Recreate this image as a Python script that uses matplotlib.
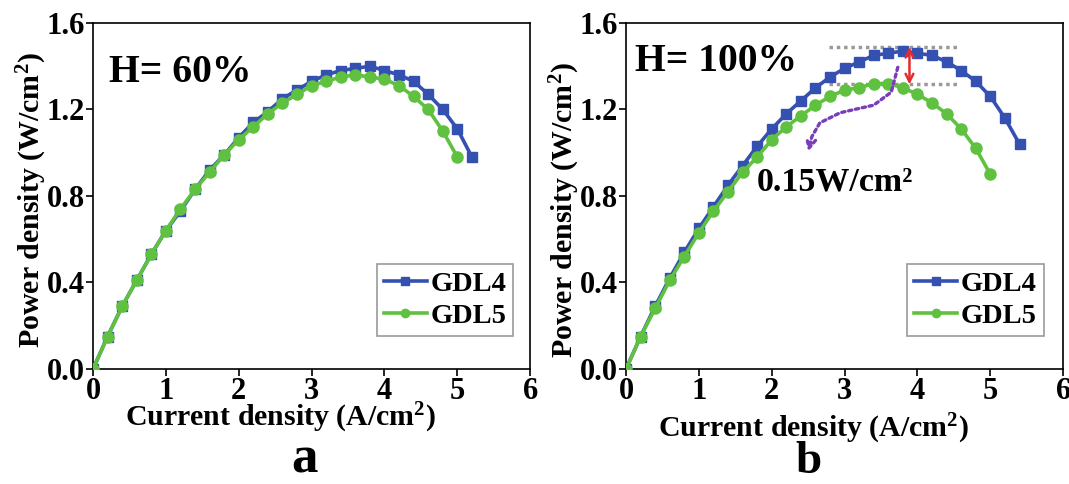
import matplotlib
matplotlib.use("Agg")
import matplotlib.pyplot as plt
from matplotlib.path import Path
from matplotlib.patches import FancyArrowPatch

plt.rcParams["font.family"] = ["Liberation Serif", "DejaVu Serif"]
plt.rcParams["font.weight"] = "bold"
plt.rcParams["mathtext.fontset"] = "custom"
plt.rcParams["mathtext.rm"] = "Liberation Serif:bold"
plt.rcParams["mathtext.default"] = "rm"

# current density steps (A/cm2)
x_a_gdl4 = [round(0.2 * i, 1) for i in range(27)]   # 0 .. 5.2
x_a_gdl5 = [round(0.2 * i, 1) for i in range(26)]   # 0 .. 5.0
x_b_gdl4 = [round(0.2 * i, 1) for i in range(28)]   # 0 .. 5.4
x_b_gdl5 = [round(0.2 * i, 1) for i in range(26)]   # 0 .. 5.0

# power density (W/cm2), H = 60%
p_a_gdl4 = [0.0, 0.15, 0.29, 0.41, 0.53, 0.64, 0.73, 0.83, 0.92, 0.99, 1.07,
            1.14, 1.19, 1.25, 1.29, 1.33, 1.36, 1.38, 1.39, 1.40, 1.38, 1.36,
            1.33, 1.27, 1.20, 1.11, 0.98]
p_a_gdl5 = [0.0, 0.15, 0.29, 0.41, 0.53, 0.64, 0.74, 0.83, 0.91, 0.99, 1.06,
            1.12, 1.18, 1.23, 1.27, 1.31, 1.33, 1.35, 1.36, 1.35, 1.34, 1.31,
            1.26, 1.20, 1.10, 0.98]

# power density (W/cm2), H = 100%
p_b_gdl4 = [0.0, 0.15, 0.29, 0.42, 0.54, 0.65, 0.75, 0.85, 0.94, 1.03, 1.11,
            1.18, 1.24, 1.30, 1.35, 1.39, 1.42, 1.45, 1.46, 1.47, 1.46, 1.45,
            1.42, 1.38, 1.33, 1.26, 1.16, 1.04]
p_b_gdl5 = [0.0, 0.15, 0.28, 0.41, 0.52, 0.63, 0.73, 0.82, 0.91, 0.98, 1.06,
            1.12, 1.17, 1.22, 1.26, 1.29, 1.30, 1.32, 1.32, 1.30, 1.27, 1.23,
            1.18, 1.11, 1.02, 0.90]

# annotation geometry for panel b
peak_hi = 1.489
peak_lo = 1.316
guide_x = [2.78, 4.56]
arrow_x = 3.89
curve_x = [3.73, 3.64, 3.40, 2.94, 2.66, 2.55, 2.50]
curve_y = [1.395, 1.28, 1.22, 1.185, 1.138, 1.074, 1.005]

BLUE = "#3451b2"
GREEN = "#5fc13f"

fig = plt.figure(figsize=(10.69, 4.84), dpi=100)
ax1 = fig.add_axes([0.087, 0.2376, 0.409, 0.715])
ax2 = fig.add_axes([0.5856, 0.2376, 0.409, 0.715])


def style_axis(ax):
    ax.set_xlim(0, 6)
    ax.set_ylim(0, 1.6)
    ax.set_xticks(range(0, 7))
    ax.set_yticks([0.0, 0.4, 0.8, 1.2, 1.6])
    ax.set_yticklabels(["0.0", "0.4", "0.8", "1.2", "1.6"])
    ax.tick_params(direction="out", length=5, width=1.2, labelsize=22, pad=1)
    for s in ax.spines.values():
        s.set_linewidth(1.2)
    for lab in ax.get_xticklabels() + ax.get_yticklabels():
        lab.set_fontweight("bold")


def draw_curves(ax, x4, y4, x5, y5):
    ax.plot(x4, y4, "-s", color=BLUE, lw=2.6, ms=7.5, label="GDL4", zorder=3)
    ax.plot(x5, y5, "-o", color=GREEN, lw=2.6, ms=8, label="GDL5", zorder=4)


draw_curves(ax1, x_a_gdl4, p_a_gdl4, x_a_gdl5, p_a_gdl5)
draw_curves(ax2, x_b_gdl4, p_b_gdl4, x_b_gdl5, p_b_gdl5)

for ax, yl_y, xl_y, anchor in [(ax1, 0.487, -0.142, (0.961, 0.096)),
                               (ax2, 0.46, -0.172, (0.955, 0.096))]:
    style_axis(ax)
    ax.set_ylabel("Power density (W/cm$^2$)", fontsize=21.5, fontweight="bold")
    ax.set_xlabel("Current density (A/cm$^2$)", fontsize=21.5, fontweight="bold")
    ax.xaxis.label.set_va("center")
    ax.yaxis.label.set_va("center")
    ax.yaxis.set_label_coords(-0.14, yl_y)
    ax.xaxis.set_label_coords(0.428, xl_y)
    leg = ax.legend(loc="lower right", bbox_to_anchor=anchor, fontsize=20.5,
                    frameon=True, fancybox=False, borderaxespad=0,
                    handlelength=1.5, handletextpad=0.12, borderpad=0.25,
                    labelspacing=0.2, markerscale=0.75)
    leg.get_frame().set_edgecolor("#808080")
    leg.get_frame().set_linewidth(1.2)

ax1.text(0.218, 1.373, "H= 60%", fontsize=28.5, fontweight="bold", va="center")
ax2.text(0.127, 1.42, "H= 100%", fontsize=28.5, fontweight="bold", va="center")

# panel b annotations
for yv in (peak_hi, peak_lo):
    ax2.plot(guide_x, [yv, yv], ls=(0, (1, 1.1)), color="#999999", lw=2.5, zorder=2)
ax2.annotate("", xy=(arrow_x, peak_hi), xytext=(arrow_x, peak_lo),
             arrowprops=dict(arrowstyle="<->", color="#e52a2a", lw=1.8,
                             mutation_scale=14, shrinkA=0, shrinkB=0), zorder=5)
verts = list(zip(curve_x, curve_y))
path = Path(verts, [Path.MOVETO] + [Path.LINETO] * (len(verts) - 1))
curve = FancyArrowPatch(path=path, arrowstyle="->", mutation_scale=16,
                        color="#7a3db8", lw=2.4, linestyle=(0, (1, 1.1)),
                        transform=ax2.transData, zorder=5)
ax2.add_patch(curve)
ax2.text(1.80, 0.864, "0.15W/cm²", fontsize=24.5, fontweight="bold",
         va="center", ha="left")

ax1.text(0.483, -0.30, "a", transform=ax1.transAxes, fontsize=38,
         fontweight="bold", ha="center", va="baseline")
ax2.text(0.418, -0.30, "b", transform=ax2.transAxes, fontsize=34,
         fontweight="bold", ha="center", va="baseline")

fig.savefig("out.png", dpi=100)
